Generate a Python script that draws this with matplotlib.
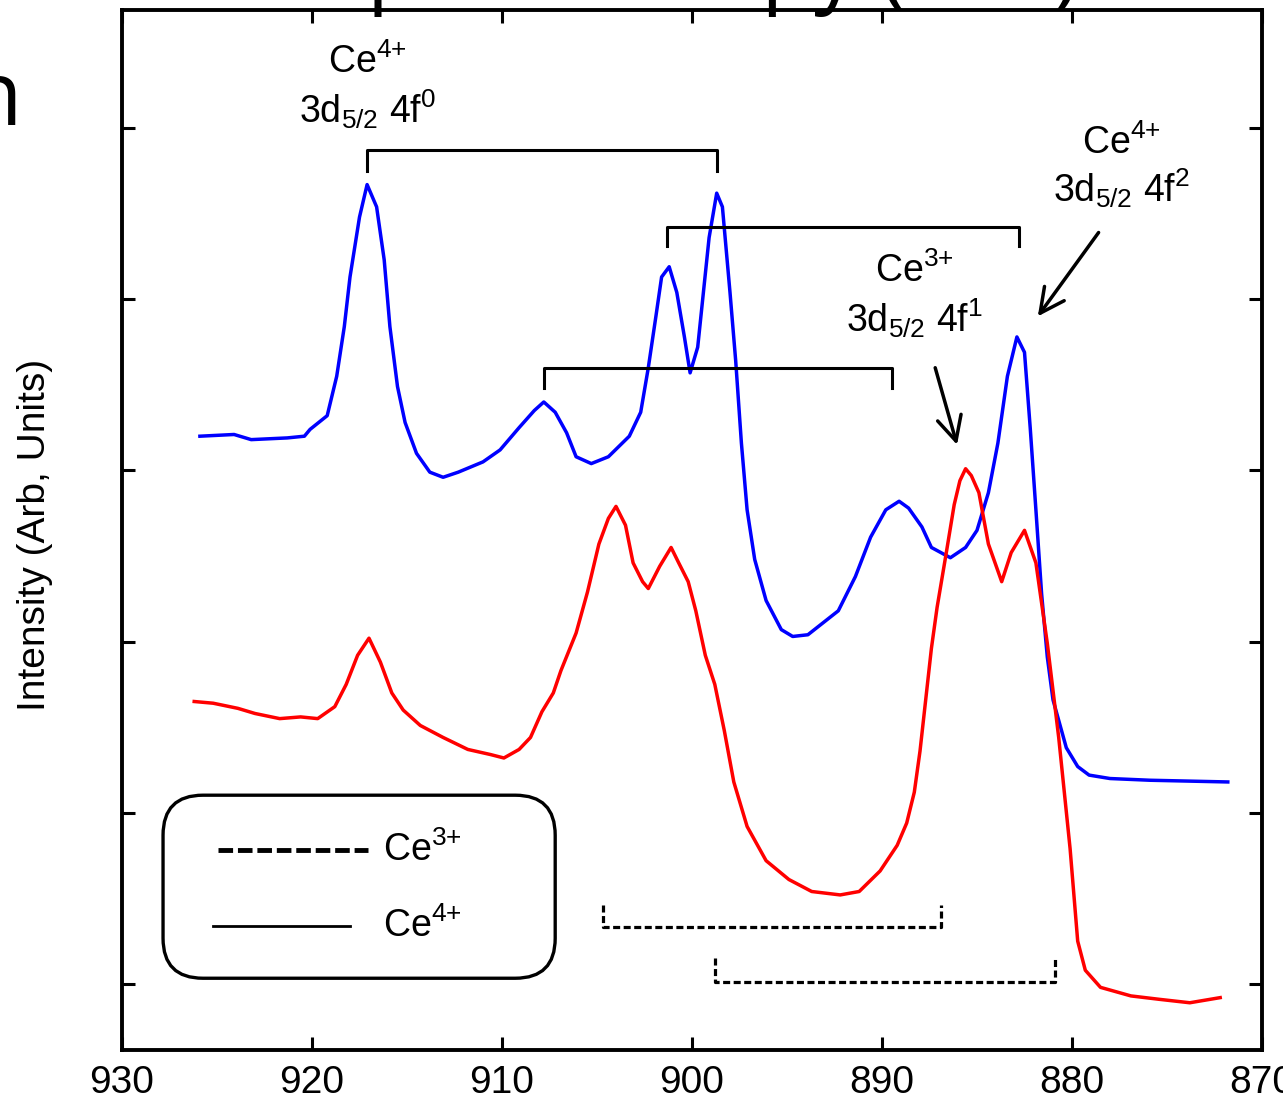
import numpy as np
import matplotlib.pyplot as plt
from matplotlib.patches import FancyBboxPatch

plt.rcParams['font.family'] = ['Liberation Sans', 'DejaVu Sans']
plt.rcParams['mathtext.fontset'] = 'custom'
plt.rcParams['mathtext.rm'] = 'Liberation Sans'
plt.rcParams['mathtext.it'] = 'Liberation Sans:italic'
plt.rcParams['mathtext.bf'] = 'Liberation Sans:bold'

# Ce 3d XPS spectra, binding energy (eV) vs intensity (arb.)
e_ce4 = [925.9, 924.1, 923.2, 921.3, 920.4, 920.1, 919.2, 918.7, 918.3, 918.0, 917.5, 917.1,
         916.6, 916.2, 915.9, 915.5, 915.1, 914.5, 913.8, 913.1, 912.3, 911.0, 910.1, 909.1,
         908.3, 907.8, 907.2, 906.6, 906.1, 905.3, 904.4, 903.3, 902.7, 902.3, 901.9, 901.6,
         901.2, 900.8, 900.4, 900.1, 899.7, 899.4, 899.1, 898.7, 898.4, 898.0, 897.7, 897.4,
         897.1, 896.7, 896.1, 895.3, 894.7, 893.9, 893.1, 892.3, 891.4, 890.6, 889.8, 889.1,
         888.6, 887.9, 887.4, 886.4, 885.6, 885.0, 884.4, 883.9, 883.4, 882.9, 882.5, 882.2,
         881.9, 881.6, 881.3, 881.0, 880.3, 879.7, 879.1, 878.0, 875.9, 871.8]
i_ce4 = [4.20, 4.21, 4.18, 4.19, 4.20, 4.24, 4.32, 4.55, 4.84, 5.13, 5.48, 5.67,
         5.54, 5.23, 4.84, 4.49, 4.28, 4.10, 3.99, 3.96, 3.99, 4.05, 4.12, 4.25,
         4.35, 4.40, 4.34, 4.22, 4.08, 4.04, 4.08, 4.20, 4.34, 4.60, 4.90, 5.13,
         5.19, 5.04, 4.78, 4.57, 4.72, 5.04, 5.36, 5.62, 5.54, 5.04, 4.64, 4.16,
         3.77, 3.48, 3.24, 3.07, 3.03, 3.04, 3.11, 3.18, 3.38, 3.61, 3.77, 3.82,
         3.78, 3.67, 3.55, 3.49, 3.55, 3.65, 3.87, 4.16, 4.55, 4.78, 4.69, 4.25,
         3.77, 3.28, 2.91, 2.66, 2.38, 2.27, 2.22, 2.20, 2.19, 2.18]

e_ce3 = [926.2, 925.2, 923.9, 923.0, 921.7, 920.6, 919.7, 918.8, 918.2, 917.6, 917.0, 916.4,
         915.8, 915.2, 914.3, 913.1, 911.8, 910.6, 909.9, 909.1, 908.5, 907.9, 907.3, 906.9,
         906.1, 905.5, 904.9, 904.4, 904.0, 903.5, 903.1, 902.6, 902.3, 901.7, 901.1, 900.7,
         900.2, 899.8, 899.3, 898.8, 898.3, 897.8, 897.1, 896.1, 894.9, 893.7, 892.2, 891.2,
         890.1, 889.2, 888.7, 888.3, 888.0, 887.7, 887.4, 887.1, 886.6, 886.2, 885.9, 885.6,
         885.3, 884.9, 884.4, 883.7, 883.2, 882.5, 881.9, 881.3, 880.7, 880.1, 879.7, 879.3,
         878.5, 876.9, 875.4, 873.8, 872.2]
i_ce3 = [2.65, 2.64, 2.61, 2.58, 2.55, 2.56, 2.55, 2.62, 2.75, 2.92, 3.02, 2.88,
         2.70, 2.60, 2.51, 2.44, 2.37, 2.34, 2.32, 2.37, 2.44, 2.59, 2.70, 2.83,
         3.05, 3.29, 3.57, 3.72, 3.79, 3.68, 3.46, 3.35, 3.31, 3.44, 3.55, 3.46,
         3.35, 3.18, 2.92, 2.75, 2.48, 2.18, 1.92, 1.72, 1.61, 1.54, 1.52, 1.54,
         1.66, 1.81, 1.94, 2.12, 2.36, 2.66, 2.96, 3.20, 3.53, 3.80, 3.94, 4.01,
         3.97, 3.87, 3.57, 3.35, 3.52, 3.65, 3.46, 2.99, 2.44, 1.79, 1.25, 1.08,
         0.98, 0.93, 0.91, 0.89, 0.92]

# peak-pair brackets (left eV, right eV, bar level, end of the little legs)
br4_left = [917.1, 901.3, 907.8]
br4_right = [898.7, 882.8, 889.5]
br4_y = [5.87, 5.42, 4.60]
br4_leg = [5.75, 5.31, 4.48]
br3_left = [904.7, 898.8]
br3_right = [886.9, 880.9]
br3_y = [1.33, 1.01]
br3_leg = [1.46, 1.15]

xticks = [930, 920, 910, 900, 890, 880, 870]
yticks = [1, 2, 3, 4, 5, 6]

fig = plt.figure(figsize=(12.83, 11.02), dpi=100)
ax = fig.add_axes([122/1283, 52/1102, 1140/1283, 1040/1102])

ax.plot(e_ce4, i_ce4, color='#0000ff', lw=2.5)
ax.plot(e_ce3, i_ce3, color='#ff0000', lw=2.5)

for l, r, y, t in zip(br4_left, br4_right, br4_y, br4_leg):
    ax.plot([l, l, r, r], [t, y, y, t], color='k', lw=2.2)
for l, r, y, t in zip(br3_left, br3_right, br3_y, br3_leg):
    ax.plot([l, l, r, r], [t, y, y, t], color='k', lw=2.3, ls=(0, (2.2, 1.1)))

# labels
fs = 27
ax.text(917.1, 6.32, 'Ce$^{4{+}}$', ha='center', va='baseline', fontsize=fs)
ax.text(917.1, 6.03, '3d$_{5/2}$ 4f$^{0}$', ha='center', va='baseline', fontsize=fs)
ax.text(877.4, 5.85, 'Ce$^{4{+}}$', ha='center', va='baseline', fontsize=fs)
ax.text(877.4, 5.57, '3d$_{5/2}$ 4f$^{2}$', ha='center', va='baseline', fontsize=fs)
ax.text(888.3, 5.10, 'Ce$^{3{+}}$', ha='center', va='baseline', fontsize=fs)
ax.text(888.3, 4.81, '3d$_{5/2}$ 4f$^{1}$', ha='center', va='baseline', fontsize=fs)

arr = dict(arrowstyle='->,head_length=0.7,head_width=0.35', lw=2.5, color='k',
           mutation_scale=25, shrinkA=0, shrinkB=0)
ax.annotate('', xy=(881.8, 4.90), xytext=(878.6, 5.39), arrowprops=arr)
ax.annotate('', xy=(886.05, 4.15), xytext=(887.2, 4.60), arrowprops=arr)

# legend box drawn by hand (rounded frame)
box = FancyBboxPatch((0.036, 0.069), 0.344, 0.176, boxstyle='round,pad=0,rounding_size=0.035',
                     mutation_aspect=1.1, transform=ax.transAxes, fc='white', ec='k', lw=2.4,
                     zorder=3)
ax.add_patch(box)
ax.plot([0.084, 0.216], [0.192, 0.192], transform=ax.transAxes, color='k', lw=3.5,
        ls=(0, (3.0, 1.0)), zorder=4)
ax.plot([0.080, 0.200], [0.119, 0.119], transform=ax.transAxes, color='k', lw=2, zorder=4)
ax.text(0.229, 0.192, 'Ce$^{3{+}}$', transform=ax.transAxes, va='center', fontsize=fs, zorder=4)
ax.text(0.229, 0.119, 'Ce$^{4{+}}$', transform=ax.transAxes, va='center', fontsize=fs, zorder=4)

ax.set_xlim(930, 870)
ax.set_ylim(0.614, 6.69)
ax.set_xticks(xticks)
ax.set_yticks(yticks)
ax.set_yticklabels([])
ax.tick_params(direction='in', length=9.5, width=2.2, top=True, right=True,
               labelsize=28, pad=11)
for s in ax.spines.values():
    s.set_linewidth(2.8)

ax.set_ylabel('Intensity (Arb, Units)', fontsize=28)
ax.yaxis.set_label_coords(-0.0605, 0.495)

# bits of the slide around the figure, cut off by the crop
fig.text(1080/1283, 1 + 4/1102, 'X-ray Photoelectron Spectroscopy (XPS)', ha='right',
         va='baseline', fontsize=62, family='Open Sans')
fig.text(22/1283, 1 - 125/1102, 'n', ha='right', va='baseline', fontsize=64, family='Open Sans')

fig.savefig('out.png', dpi=100)
